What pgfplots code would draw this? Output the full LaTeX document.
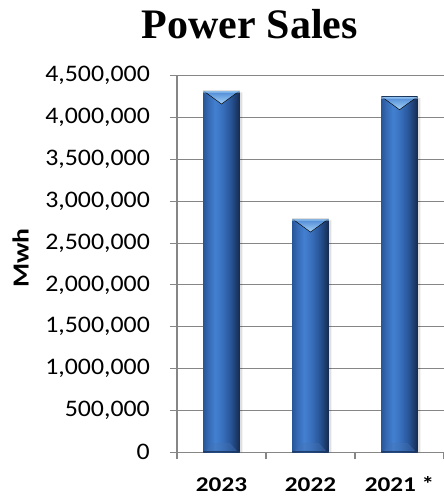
\documentclass[border=0pt]{standalone}
\usepackage{fontspec}
\setmainfont{Liberation Serif}
\newfontfamily\tickfont{Carlito}[FakeStretch=1.09]
\newfontfamily\labfont{Carlito}[FakeStretch=1.2]
\usepackage{pgfplots}
\pgfplotsset{compat=1.18}

\definecolor{gridc}{RGB}{134,134,134}
\definecolor{ba}{RGB}{42,88,155}
\definecolor{bb}{RGB}{56,110,186}
\definecolor{bc}{RGB}{66,128,207}
\definecolor{bd}{RGB}{58,114,192}
\definecolor{be}{RGB}{40,84,150}
\definecolor{bf}{RGB}{22,44,82}
\definecolor{capA}{RGB}{75,135,212}
\definecolor{capB}{RGB}{165,210,248}
\definecolor{botA}{RGB}{28,56,100}
\definecolor{botB}{RGB}{70,115,180}

\pgfdeclarehorizontalshading{barshade}{100bp}{color(0bp)=(ba); color(25bp)=(ba); color(33bp)=(bb); color(41bp)=(bc); color(50bp)=(bd); color(63bp)=(be); color(75bp)=(bf); color(100bp)=(bf)}

\pgfdeclareplotmark{topcap}{%
  \fill[top color=capA, bottom color=capB] (-17.8pt,0pt) -- (17.8pt,0pt) -- (0pt,-13pt) -- cycle;
  \fill[capB, opacity=0.5] (-17.8pt,0pt) rectangle (17.8pt,-1.2pt);
}
\pgfdeclareplotmark{botcap}{%
  \fill[botA, opacity=0.7] (-17.8pt,0pt) rectangle (17.8pt,1.5pt);
  \fill[botB, opacity=0.35] (-15pt,1.5pt) -- (15pt,1.5pt) -- (8pt,9pt) -- (-8pt,9pt) -- cycle;
}

\pgfplotsset{barstyle/.style={ybar, bar width=0.4, bar shift=0pt, draw=none, shading=barshade}}

\begin{document}
\begin{tikzpicture}
\begin{axis}[
  at={(0,0)}, anchor=south west,
  scale only axis,
  width=267pt, height=376.6pt,
  xmin=-0.5, xmax=2.5,
  ymin=0, ymax=4500000,
  enlargelimits=false,
  axis x line=bottom, axis y line=left,
  axis line style={-, draw=gridc, line width=1.1pt},
  ymajorgrids,
  grid style={draw=gridc, line width=1.1pt},
  ytick distance=500000,
  scaled y ticks=false,
  tick align=outside,
  major tick length=7pt,
  minor tick length=7pt,
  tick style={draw=gridc, line width=1.1pt},
  xtick={0,1,2},
  xticklabels={2023,2022,2021 *},
  major x tick style={draw=none},
  minor xtick={-0.5,0.5,1.5,2.5},
  yticklabel={\pgfmathprintnumber[fixed, precision=0, 1000 sep={,}, assume math mode=true]{\tick}},
  yticklabel style={font=\tickfont\fontsize{23.7pt}{24pt}\selectfont, anchor=east, inner sep=0pt, xshift=-20pt},
  xticklabel style={font=\labfont\bfseries\fontsize{21pt}{22pt}\selectfont, anchor=base, inner sep=0pt, yshift=-31.7pt},
  clip=false,
]
\addplot[ybar, bar width=0.4, bar shift=3pt, draw=none, fill=black, fill opacity=0.12] coordinates {(0,4300000) (1,2770000) (2,4232000)};
\addplot[barstyle] coordinates {(0,4317000)};
\addplot[barstyle] coordinates {(1,2787000)};
\addplot[barstyle] coordinates {(2,4249000)};
\addplot[only marks, mark=topcap] coordinates {(0,4317000) (1,2787000) (2,4249000)};
\addplot[only marks, mark=botcap] coordinates {(0,0) (1,0) (2,0)};
\node[font=\labfont\bfseries\fontsize{23pt}{24pt}\selectfont, rotate=90] at (axis description cs:-0.586,0.516) {Mwh};
\node[font=\bfseries\fontsize{42pt}{44pt}\selectfont, anchor=base] at (axis description cs:0.273,1) [yshift=37.4pt] {Power Sales};
\end{axis}
\pgfresetboundingbox
\path (-177pt,-48.7pt) rectangle (267pt,452.3pt);
\end{tikzpicture}
\end{document}
